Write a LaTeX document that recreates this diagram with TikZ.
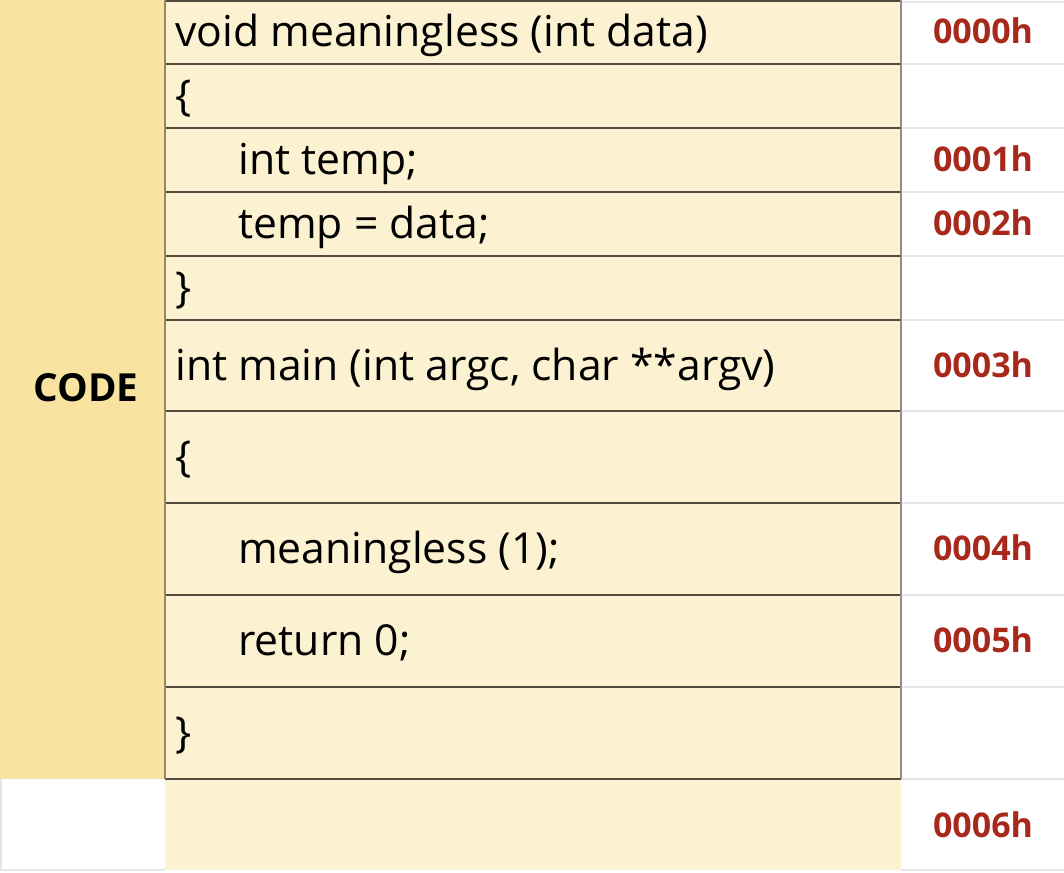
\documentclass[tikz,border=0pt]{standalone}
\usepackage{fontspec}
\setmainfont{Open Sans}
\definecolor{codeband}{HTML}{F8E4A0}
\definecolor{cellfill}{HTML}{FCF2D1}
\definecolor{addrred}{HTML}{A8281C}
\definecolor{rowline}{HTML}{4E4B3C}
\tikzset{codeline/.style={anchor=base west,inner sep=0pt,yshift=-10.5pt,
    font=\fontsize{32}{38}\selectfont},
  addr/.style={anchor=base,inner sep=0pt,yshift=-8.5pt,text=addrred,
    font=\bfseries\fontsize{25.5}{30}\selectfont},
  sepgrey/.style={draw=black!10,line width=1.5pt}}

\begin{document}
\begin{tikzpicture}[x=0.75pt,y=-0.75pt]
  \useasboundingbox (0,0) rectangle (1064,872);
  \fill[white] (0,0) rectangle (1064,872);
  \fill[codeband] (0,0) rectangle (165,779);
  \fill[cellfill] (165,0) rectangle (901,870);

  % address column separators
  \foreach \y in {2,64,128,192,256,320,411,503,595,687,779,870}
    \draw[sepgrey] (901,\y) -- (1064,\y);
  \draw[sepgrey] (1,779) -- (1,870) -- (165,870);

  % code rows
  \foreach \y in {1,64,128,192,256,320,411,503,595,687,779}
    \draw[rowline,line width=1.5pt] (165,\y) -- (901,\y);
  \draw[draw=codeband!60!black,line width=2pt] (165,0) -- (165,779);
  \draw[draw=black!45,line width=2pt] (901,0) -- (901,779);

  \node [font=\bfseries\fontsize{29}{34}\selectfont] (code) at (86,388) {CODE};

  \node [codeline] (l1)  at (175,32)  {void meaningless (int data)};
  \node [codeline] (l2)  at (175,96)  {\{};
  \node [codeline] (l3)  at (238,160) {int temp;};
  \node [codeline] (l4)  at (238,224) {temp = data;};
  \node [codeline] (l5)  at (175,288) {\}};
  \node [codeline] (l6)  at (175,366) {int main (int argc, char **argv)};
  \node [codeline] (l7)  at (175,457) {\{};
  \node [codeline] (l8)  at (238,549) {meaningless (1);};
  \node [codeline] (l9)  at (238,641) {return 0;};
  \node [codeline] (l10) at (175,733) {\}};

  \node [addr] (a0) at (983,32)  {0000h};
  \node [addr] (a1) at (983,160) {0001h};
  \node [addr] (a2) at (983,224) {0002h};
  \node [addr] (a3) at (983,366) {0003h};
  \node [addr] (a4) at (983,549) {0004h};
  \node [addr] (a5) at (983,641) {0005h};
  \node [addr] (a6) at (983,826) {0006h};
\end{tikzpicture}
\end{document}
